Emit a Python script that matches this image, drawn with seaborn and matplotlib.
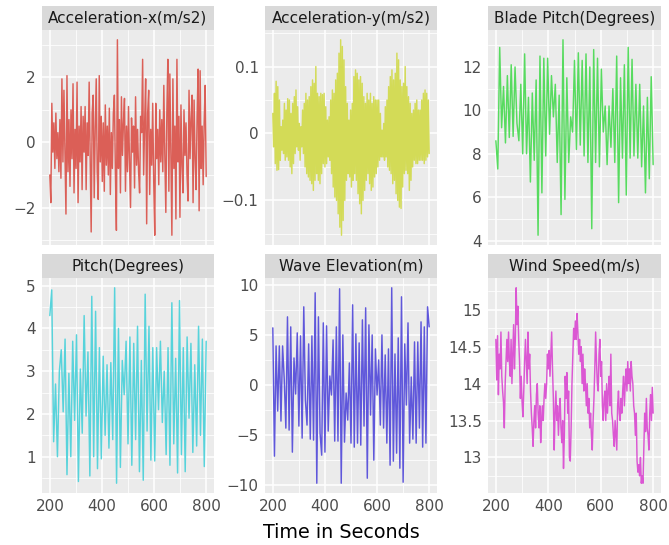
import numpy as np
import pandas as pd
import matplotlib
matplotlib.use("Agg")
import matplotlib.pyplot as plt
import seaborn as sns
from matplotlib.ticker import FixedLocator

# ---------------- data ----------------
panel_titles = ["Acceleration-x(m/s2)", "Acceleration-y(m/s2)", "Blade Pitch(Degrees)",
                "Pitch(Degrees)", "Wave Elevation(m)", "Wind Speed(m/s)"]

t_start, t_end = 200, 800

acc_x = [-1.0, -1.85, 1.2, -0.3, 0.6, -0.8, 0.9, -0.5, 0.3, -0.9, 0.7, -1.1, 1.95,
         -0.6, 1.6, -0.4, -2.2, 2.05, -0.9, 0.7, -1.35, 1.0, -0.5, 1.8, -1.55, 0.4,
         -0.8, 1.85, -1.85, 0.5, -0.6, 1.1, -1.45, 0.8, -0.3, 1.1, -1.45, 0.6, -0.4,
         1.85, -0.5, -2.75, 0.9, 1.45, -1.7, 0.4, 1.95, -0.9, -1.75, 2.05, -0.6, 0.8,
         -1.2, 0.6, -1.5, 1.15, -0.7, 0.5, -1.0, 1.05, -1.6, 0.3, -0.8, 0.9, 1.45,
         -0.9, -2.7, 3.15, -0.8, 0.7, -1.55, 1.4, -0.4, 0.6, 1.35, -1.5, 0.5, -0.9,
         1.1, -0.6, -2.0, 0.75, -0.3, 0.5, -1.4, 1.4, -0.7, 0.4, -0.9, -1.55, 0.8,
         0.3, 2.55, -1.0, 0.6, 1.95, -2.5, 0.9, 1.6, -1.6, 0.4, -0.7, 1.2, -1.2,
         -2.85, 1.2, -0.5, 0.4, -1.3, 1.0, -0.6, 0.7, -0.9, 1.75, -0.4, -2.15, 0.9,
         2.55, -1.5, 2.1, -0.4, -2.85, 1.95, -0.8, 0.5, -2.35, 2.55, -0.6, 0.8, -2.3,
         1.15, -0.7, -1.55, 1.0, -0.4, 0.6, -1.0, -1.8, 1.6, -0.5, 0.7, 1.45, -1.85,
         1.3, -0.5, -1.45, 0.8, 2.25, -2.1, 2.2, -0.8, 0.5, -1.3, 0.6, 1.75, -1.05]

acc_y = [0.03, -0.02, 0.06, -0.045, 0.078, -0.055, 0.07, -0.054, 0.05, -0.04,
         0.01, -0.025, 0.02, -0.03, 0.045, -0.04, 0.035, -0.035, 0.052, -0.04,
         0.05, -0.05, 0.03, -0.06, 0.045, -0.045, 0.055, -0.03, 0.065, -0.02,
         0.04, -0.025, 0.015, -0.04, 0.01, -0.02, 0.035, -0.03, 0.045, -0.05,
         0.06, -0.06, 0.05, -0.065, 0.055, -0.07, 0.07, -0.075, 0.08, -0.085,
         0.075, -0.07, 0.1, -0.06, 0.06, -0.07, 0.055, -0.075, 0.06, -0.06,
         0.058, -0.045, 0.06, -0.05, 0.04, -0.045, 0.02, -0.035, 0.025, -0.04,
         0.05, -0.06, 0.065, -0.08, 0.06, -0.095, 0.08, -0.1, 0.09, -0.12,
         0.12, -0.14, 0.14, -0.152, 0.13, -0.13, 0.11, -0.1, 0.07, -0.07,
         0.045, -0.06, 0.02, -0.065, 0.035, -0.08, 0.045, -0.07, 0.085, -0.06,
         0.095, -0.07, 0.09, -0.09, 0.08, -0.105, 0.085, -0.12, 0.075, -0.1,
         0.055, -0.085, 0.045, -0.07, 0.06, -0.06, 0.05, -0.075, 0.06, -0.085,
         0.045, -0.08, 0.055, -0.065, 0.05, -0.06, 0.05, -0.05, 0.05, -0.04,
         0.03, -0.035, 0.005, -0.035, 0.015, -0.04, 0.04, -0.035, 0.05, -0.05,
         0.07, -0.055, 0.085, -0.06, 0.095, -0.075, 0.08, -0.07, 0.09, -0.09,
         0.12, -0.1, 0.11, -0.11, 0.08, -0.112, 0.07, -0.08, 0.075, -0.06,
         0.1, -0.055, 0.07, -0.06, 0.055, -0.085, 0.045, -0.07, 0.03, -0.05,
         0.035, -0.04, 0.045, -0.045, 0.05, -0.045, 0.035, -0.04, 0.035, -0.04,
         0.05, -0.04, 0.06, -0.045, 0.065, -0.04, 0.06, -0.035, 0.05, -0.03]

blade_pitch = [8.6, 7.3, 12.9, 9.2, 11.1, 8.5, 11.6, 8.75, 12.1, 8.8, 12.0, 9.4, 8.6,
               11.2, 8.0, 12.6, 8.0, 10.6, 6.7, 10.8, 7.7, 11.4, 4.25, 12.5, 6.2, 12.4,
               7.9, 12.4, 8.9, 11.6, 9.7, 11.2, 7.6, 10.7, 5.2, 13.25, 5.9, 11.5, 7.6,
               9.7, 9.0, 12.3, 8.2, 12.65, 8.4, 12.3, 7.9, 12.6, 7.6, 12.0, 4.55, 12.8,
               7.6, 12.4, 7.4, 11.9, 9.0, 10.2, 7.5, 10.2, 8.3, 11.0, 7.6, 12.5, 5.75,
               11.5, 7.8, 12.1, 6.1, 12.9, 7.8, 12.35, 7.9, 11.2, 7.8, 11.2, 7.4, 10.2,
               6.2, 10.6, 6.85, 11.55, 7.5]

pitch = [4.3, 4.9, 1.35, 2.7, 1.0, 3.0, 3.5, 2.05, 3.75, 0.58, 2.95, 1.0, 3.7, 1.85,
         3.85, 0.42, 3.05, 1.55, 4.3, 1.95, 3.45, 0.55, 4.75, 1.0, 4.4, 0.72, 3.55, 0.95,
         3.35, 1.5, 3.15, 1.2, 3.2, 1.4, 4.95, 0.38, 4.0, 0.75, 3.25, 2.45, 3.7, 1.3, 3.8,
         0.8, 3.65, 1.4, 4.05, 0.65, 3.25, 0.45, 4.8, 1.6, 4.05, 0.92, 3.55, 0.9, 3.55,
         2.1, 3.7, 1.8, 3.0, 1.05, 3.55, 0.8, 4.6, 1.3, 3.3, 0.62, 4.65, 1.05, 3.55, 0.65,
         3.8, 1.9, 3.65, 1.1, 3.15, 1.25, 4.05, 1.5, 3.75, 0.77, 3.7]

wave_elevation = [5.7, -7.1, 3.9, -2.6, 3.9, -3.6, 3.9, 0.6, -4.3, 6.8, -4.5, 5.8, -6.7,
                  2.7, -0.9, 5.2, -4.1, 4.9, -5.3, 7.8, -1.5, -4.0, 4.1, -5.4, 4.9, -5.5,
                  9.2, -9.8, 6.8, -4.8, -7.0, 6.2, -6.7, 5.9, -4.6, 0.9, -1.0, 4.5, -5.6,
                  5.8, -5.6, 9.6, -9.8, 5.0, -5.7, -0.8, -3.5, 2.2, -5.8, 8.0, -6.2, 5.1,
                  -5.8, 4.2, -6.0, 6.5, -4.1, 7.7, -9.3, 6.0, -3.0, 5.0, -7.5, 3.6, -1.0,
                  2.5, -4.0, 5.0, -4.3, 3.0, -5.8, 3.6, -8.0, 9.7, -7.6, 3.1, -6.8, 4.7,
                  -8.3, 8.8, -9.7, 4.1, -2.0, 6.2, -5.8, 0.8, -5.4, 4.3, -5.8, 4.3, -4.3,
                  6.3, -6.2, 5.8, -5.8, 7.8, 5.8]

wind_speed = [14.6, 14.05, 14.65, 13.85, 14.4, 14.2, 14.7, 14.1, 13.9, 13.75, 13.4, 14.0,
              14.3, 14.6, 14.3, 14.7, 14.3, 14.1, 14.6, 14.0, 14.4, 14.8, 14.2, 14.6, 15.3,
              14.8, 15.05, 14.6, 14.3, 13.8, 14.1, 13.75, 13.55, 13.9, 14.3, 14.6, 14.3,
              14.0, 14.7, 14.2, 14.4, 13.9, 13.6, 13.4, 13.15, 13.5, 13.7, 13.4, 13.85,
              14.0, 13.6, 13.4, 13.7, 13.2, 13.5, 13.7, 13.5, 13.8, 14.0, 13.8, 14.0, 14.4,
              14.2, 14.45, 14.1, 14.4, 14.7, 14.2, 13.8, 13.1, 13.6, 13.9, 13.5, 13.7, 13.3,
              13.6, 13.8, 13.4, 13.2, 13.5, 12.85, 13.3, 14.1, 13.8, 14.15, 13.6, 13.9, 13.0,
              12.95, 13.4, 14.0, 14.4, 14.75, 14.6, 14.85, 14.6, 14.95, 14.7, 14.4, 14.6,
              14.3, 14.5, 14.0, 14.4, 13.9, 14.2, 14.0, 13.7, 14.0, 13.6, 13.8, 13.4, 13.6,
              13.3, 13.1, 13.5, 13.8, 14.2, 14.7, 14.3, 14.0, 13.9, 14.4, 14.6, 14.1, 14.3,
              13.7, 13.5, 13.8, 13.9, 13.5, 14.0, 13.6, 13.9, 14.1, 13.7, 14.4, 13.6, 13.5,
              13.3, 13.15, 13.5, 13.3, 13.1, 13.7, 13.9, 13.6, 13.5, 13.8, 13.6, 13.9, 14.1,
              13.7, 14.0, 14.2, 13.9, 14.3, 14.0, 14.2, 13.9, 14.3, 14.1, 14.0, 13.7, 13.6,
              13.3, 13.6, 12.95, 12.8, 12.9, 12.75, 13.0, 12.65, 12.75, 12.65, 13.1, 13.6,
              13.35, 13.8, 13.4, 13.3, 13.1, 13.6, 13.85, 13.5, 13.95, 13.6]

series_values = [acc_x, acc_y, blade_pitch, pitch, wave_elevation, wind_speed]

x_ticks = [200, 400, 600, 800]
x_tick_labels = ["200", "400", "600", "800"]
y_ticks = [[-2, 0, 2], [-0.1, 0, 0.1], [4, 6, 8, 10, 12], [1, 2, 3, 4, 5],
           [-10, -5, 0, 5, 10], [13, 13.5, 14, 14.5, 15]]
y_tick_labels = [["\u22122", "0", "2"], ["\u22120.1", "0", "0.1"],
                 ["4", "6", "8", "10", "12"], ["1", "2", "3", "4", "5"],
                 ["\u221210", "\u22125", "0", "5", "10"],
                 ["13", "13.5", "14", "14.5", "15"]]
x_label = "Time in Seconds"

# long table
frames = []
for title, vals in zip(panel_titles, series_values):
    n = len(vals)
    frames.append(pd.DataFrame({"time": np.linspace(t_start, t_end, n),
                                "value": vals, "variable": title}))
df = pd.concat(frames, ignore_index=True)

# ---------------- drawing ----------------
sns.set_style("white")
plt.rcParams["font.family"] = ["DejaVu Sans"]
palette = sns.color_palette("hls", 6)

W, H = 669, 545
fig = plt.figure(figsize=(W / 100, H / 100), dpi=100)


def rect(l, t, r, b):
    return [l / W, 1 - b / H, (r - l) / W, (b - t) / H]


cols = [(42, 214), (265, 437), (488, 661)]
rows = [(30, 245, 6), (278, 493, 254)]

for i, title in enumerate(panel_titles):
    r, c = divmod(i, 3)
    l, rr = cols[c]
    top, bot, stop = rows[r]
    ax = fig.add_axes(rect(l, top, rr, bot))
    st = fig.add_axes(rect(l, stop, rr, top))
    st.set_facecolor("#D9D9D9")
    st.set_xticks([]); st.set_yticks([])
    for s in st.spines.values():
        s.set_visible(False)
    st.text(0.5, 0.5, title, ha="center", va="center", fontsize=11, color="#1A1A1A",
            transform=st.transAxes)

    sub = df[df["variable"] == title]
    sns.lineplot(data=sub, x="time", y="value", ax=ax, color=palette[i],
                 linewidth=1.05, estimator=None, sort=False)

    ax.set_facecolor("#EBEBEB")
    for s in ax.spines.values():
        s.set_visible(False)
    ax.set_xlim(170, 830)
    vmin, vmax = sub["value"].min(), sub["value"].max()
    pad = 0.05 * (vmax - vmin)
    ax.set_ylim(vmin - pad, vmax + pad)

    ax.set_xticks(x_ticks)
    ax.set_xticklabels(x_tick_labels)
    ax.xaxis.set_minor_locator(FixedLocator([300, 500, 700]))
    yt = y_ticks[i]
    ax.set_yticks(yt)
    ax.set_yticklabels(y_tick_labels[i])
    step = yt[1] - yt[0]
    ax.yaxis.set_minor_locator(FixedLocator([yt[0] - step / 2] + [v + step / 2 for v in yt]))
    ax.grid(which="major", color="white", linewidth=1.1)
    ax.grid(which="minor", color="white", linewidth=0.55)
    ax.set_axisbelow(True)
    ax.tick_params(which="major", length=2.5, width=0.9, color="#333333",
                   labelcolor="#4D4D4D", labelsize=11, pad=2)
    ax.tick_params(which="minor", length=0)
    ax.set_xlabel("")
    ax.set_ylabel("")
    if r == 0:
        ax.tick_params(axis="x", which="both", bottom=False, labelbottom=False)

fig.text(341 / W, 1 - 533 / H, x_label, ha="center", va="center", fontsize=13.8,
         color="black")

fig.savefig("out.png", dpi=100)
